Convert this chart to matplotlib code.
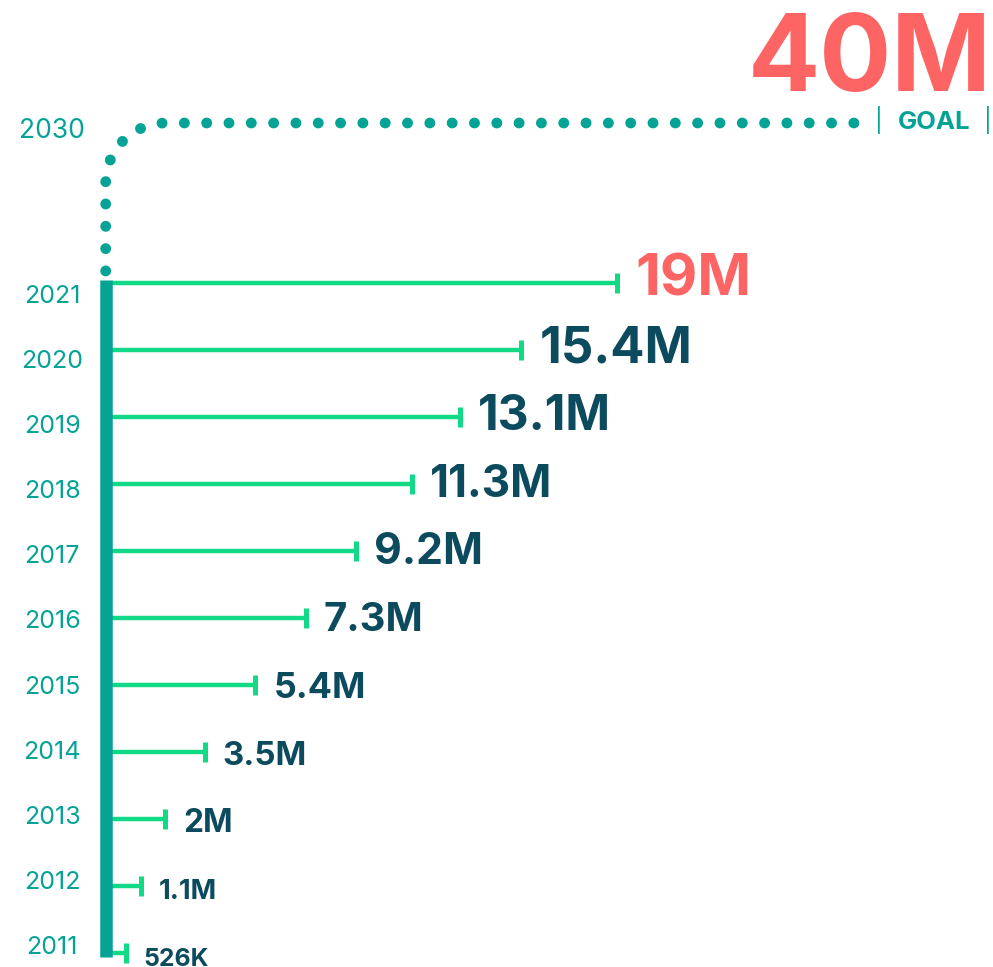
import numpy as np
import matplotlib.pyplot as plt

# members per year, in millions
years = [2021, 2020, 2019, 2018, 2017, 2016, 2015, 2014, 2013, 2012, 2011]
members = [19.0, 15.4, 13.1, 11.3, 9.2, 7.3, 5.4, 3.5, 2.0, 1.1, 0.526]
goal_year = 2030
goal_value = 40  # millions

# style
teal = '#05a396'
green = '#12d985'
navy = '#0c4a5d'
coral = '#fd6565'
label_sizes = [41.5, 36.5, 34.5, 31.8, 30.8, 28.8, 25.8, 23.8, 22.8, 19.8, 17.8]

plt.rcParams['font.family'] = ['Inter', 'DejaVu Sans']

W, H = 993, 967
PX = 26.6      # pixels per million
X0 = 111.7     # pixel x of zero
YPX = 67.06    # pixels per year
Y0 = 282.7     # pixel y of 2021 row


def px_x(p):
    return (p - X0) / PX


def px_y(p):
    return years[0] + (Y0 - p) / YPX


def fmt(v):
    if v < 1:
        return f'{v * 1000:.0f}K'
    return f'{v:g}M'


fig = plt.figure(figsize=(W / 100, H / 100), dpi=100)
ax = fig.add_axes([0, 0, 1, 1])
ax.set_xlim(px_x(0), px_x(W))
ax.set_ylim(px_y(H), px_y(0))
ax.axis('off')

# vertical spine
ax.plot([px_x(105.7), px_x(105.7)], [px_y(957), px_y(280)], color=teal,
        lw=9, solid_capstyle='butt', zorder=3)

# dotted path up to the goal
vy = np.linspace(271, 183, 20)
th = np.linspace(np.pi, np.pi / 2, 40)
ay = 183 - 60 * np.sin(th)
ax_ = 165.7 + 60 * np.cos(th)
hx = np.linspace(165.7, 862, 50)
path_x = np.concatenate([np.full_like(vy, 105.7), ax_, hx])
path_y = np.concatenate([vy, ay, np.full_like(hx, 123)])
ax.plot(px_x(path_x), px_y(path_y), color=teal, lw=7.8,
        ls=(0, (0.01, 2.05)), dash_capstyle='round')

# bars and end caps
ax.hlines(years, 0, members, color=green, lw=3.2, zorder=2)
ax.plot(members, years, ls='none', marker='|', ms=14.4, mew=3.6, color=green)

for i, (yr, m) in enumerate(zip(years, members)):
    c = coral if i == 0 else navy
    ax.annotate(fmt(m), xy=(m, yr), xytext=(18, -13), textcoords='offset pixels',
                ha='left', va='baseline', fontsize=label_sizes[i],
                fontweight='bold', color=c)
    fig.text(52 / W, 1 - (303 + i * 65.1) / H, str(yr), ha='center',
             va='baseline', fontsize=18, color=teal)

fig.text(52 / W, 1 - 138 / H, str(goal_year), ha='center', va='baseline',
         fontsize=19, color=teal)

fig.text(992 / W, 1 - 91 / H, f'{goal_value}M', ha='right', va='baseline',
         fontsize=77, fontweight='bold', color=coral)
fig.text(934.5 / W, 1 - 129 / H, 'GOAL', ha='center', va='baseline',
         fontsize=18.5, fontweight='bold', color=teal)
for px in (879, 988):
    fig.text(px / W, 1 - 128 / H, '|', ha='center', va='baseline',
             fontsize=17, color=teal)

plt.savefig('out.png', dpi=100)
